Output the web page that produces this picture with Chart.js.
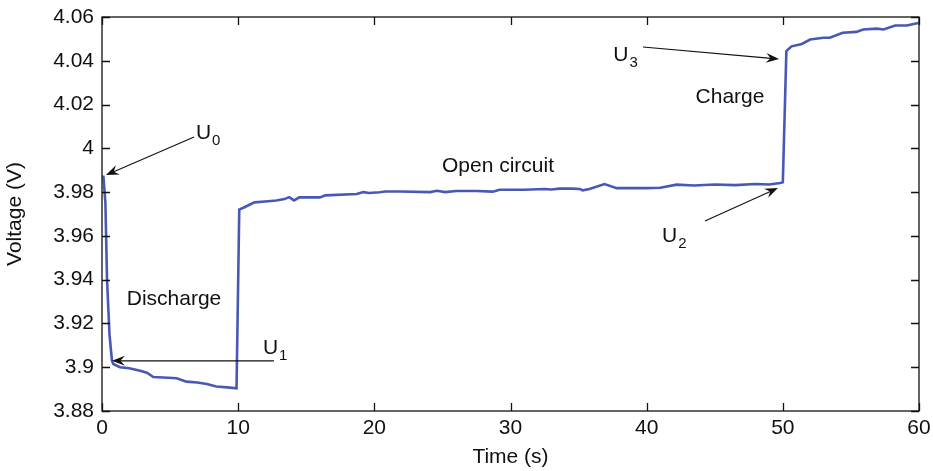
<!DOCTYPE html>
<html><head><meta charset="utf-8">
<script src="https://cdn.jsdelivr.net/npm/chart.js@4/dist/chart.umd.min.js"></script>
<style>html,body{margin:0;padding:0;background:#fff}#wrap{width:933px;height:471px}</style>
</head><body><div id="wrap"><canvas id="c" width="933" height="471"></canvas></div>
<script>
// ---- data ----
const timeS = [0.1,0.25,0.37,0.55,0.73,0.83,1.32,2.0,2.8,3.3,3.77,4.5,5.49,6.2,7.0,7.7,8.4,9.2,9.88,
  10.08,10.5,11.2,11.97,12.8,13.4,13.75,14.1,14.5,16.0,16.4,18.7,19.2,19.6,20.4,20.8,21.9,24.1,24.6,25.2,26.0,27.5,28.7,29.2,31.0,32.5,33.0,33.6,34.5,35.1,35.3,35.8,36.9,37.8,40.0,41.0,42.2,43.5,45.0,46.5,48.0,49.0,49.8,50.0,
  50.26,50.64,51.4,52.0,52.97,53.45,54.4,55.4,55.9,56.9,57.4,58.25,59.1,59.96];
const voltageV = [3.9876,3.975,3.940,3.915,3.903,3.9015,3.9000,3.8995,3.8984,3.8975,3.8955,3.8953,3.8950,3.8934,3.8930,3.8923,3.8912,3.8908,3.8904,
  3.9720,3.9732,3.9753,3.9757,3.9762,3.9768,3.9777,3.9762,3.9776,3.9776,3.9785,3.9791,3.9800,3.9796,3.9799,3.9803,3.9803,3.9800,3.9806,3.9800,3.9805,3.9805,3.9802,3.9811,3.9811,3.9814,3.9812,3.9816,3.9816,3.9814,3.9808,3.9814,3.9837,3.9818,3.9818,3.9820,3.9834,3.9830,3.9835,3.9832,3.9837,3.9835,3.9842,3.9845,
  4.0444,4.0466,4.0477,4.0497,4.0505,4.0505,4.0528,4.0532,4.0543,4.0547,4.0543,4.0561,4.0561,4.0573];
const xTickValues = [0,10,20,30,40,50,60];
const yTickValues = [3.88,3.90,3.92,3.94,3.96,3.98,4.00,4.02,4.04,4.06];
const xAxisTitle = 'Time (s)';
const yAxisTitle = 'Voltage (V)';
// phase labels: text, centre time, baseline voltage
const phaseText = ['Discharge','Open circuit','Charge'];
const phaseAt = [[5.29,3.9286],[29.08,3.9892],[46.12,4.0207]];
// U markers: subscript, text anchor (t,V), arrow start (t,V), arrow tip (t,V)
const markerSub = ['0','1','2','3'];
const markerTextAt = [[6.90,4.0043],[11.82,3.9060],[41.13,3.9572],[37.55,4.0399]];
const arrowFrom = [[6.76,4.0052],[12.63,3.9029],[44.28,3.9668],[39.73,4.0463]];
const arrowTo = [[0.29,3.9878],[0.73,3.9029],[49.64,3.9819],[49.72,4.0408]];

const FONT = '"Liberation Sans", Arial, Helvetica, sans-serif';
const FS = 21;
const points = timeS.map((t,i)=>({x:t,y:voltageV[i]}));

const framePlugin = {
  id:'frame',
  afterDatasetsDraw(chart){
    const {ctx, chartArea:a, scales:{x,y}} = chart;
    ctx.save();
    ctx.strokeStyle='#111'; ctx.lineWidth=1.3;
    ctx.strokeRect(a.left, a.top, a.right-a.left, a.bottom-a.top);
    const L=8;
    ctx.beginPath();
    xTickValues.forEach(v=>{const px=Math.round(x.getPixelForValue(v))+0.5;
      ctx.moveTo(px,a.bottom);ctx.lineTo(px,a.bottom-L);ctx.moveTo(px,a.top);ctx.lineTo(px,a.top+L);});
    yTickValues.forEach(v=>{const py=Math.round(y.getPixelForValue(v))+0.5;
      ctx.moveTo(a.left,py);ctx.lineTo(a.left+L,py);ctx.moveTo(a.right,py);ctx.lineTo(a.right-L,py);});
    ctx.stroke();
    // phase labels
    ctx.fillStyle='#111'; ctx.font=FS+'px '+FONT; ctx.textAlign='center'; ctx.textBaseline='alphabetic';
    phaseText.forEach((s,i)=>ctx.fillText(s, x.getPixelForValue(phaseAt[i][0]), y.getPixelForValue(phaseAt[i][1])));
    // markers
    ctx.textAlign='left';
    markerSub.forEach((s,i)=>{
      const tx=x.getPixelForValue(markerTextAt[i][0]), ty=y.getPixelForValue(markerTextAt[i][1]);
      ctx.font=FS+'px '+FONT; ctx.fillText('U',tx,ty);
      const w=ctx.measureText('U').width;
      ctx.font='15px '+FONT; ctx.fillText(s,tx+w+1,ty+6);
      const x1=x.getPixelForValue(arrowFrom[i][0]), y1=y.getPixelForValue(arrowFrom[i][1]);
      const x2=x.getPixelForValue(arrowTo[i][0]), y2=y.getPixelForValue(arrowTo[i][1]);
      const ang=Math.atan2(y2-y1,x2-x1), len=13, wd=5;
      const c=Math.cos(ang), sn=Math.sin(ang);
      ctx.lineWidth=1.1; ctx.beginPath(); ctx.moveTo(x1,y1); ctx.lineTo(x2-c*len*0.6,y2-sn*len*0.6); ctx.stroke();
      ctx.beginPath();
      ctx.moveTo(x2,y2);
      ctx.lineTo(x2-c*len - sn*wd, y2-sn*len + c*wd);
      ctx.lineTo(x2-c*len*0.65, y2-sn*len*0.65);
      ctx.lineTo(x2-c*len + sn*wd, y2-sn*len - c*wd);
      ctx.closePath(); ctx.fill();
    });
    ctx.restore();
  }
};

new Chart(document.getElementById('c'), {
  type:'line',
  data:{datasets:[{data:points, borderColor:'#4858b5', borderWidth:2.6, pointRadius:0, tension:0, fill:false}]},
  options:{
    responsive:false, animation:false, devicePixelRatio:1,
    layout:{padding:{top:17,right:14,left:0,bottom:0}},
    plugins:{legend:{display:false}, tooltip:{enabled:false}},
    scales:{
      x:{type:'linear', min:0, max:60,
        afterBuildTicks:s=>{s.ticks=xTickValues.map(v=>({value:v}));},
        afterFit:s=>{s.height=60; s.paddingLeft=0; s.paddingRight=0;},
        grid:{display:false, drawTicks:false}, border:{display:false},
        ticks:{font:{size:FS,family:FONT}, color:'#111', padding:5, maxRotation:0, autoSkip:false},
        title:{display:true, text:xAxisTitle, color:'#111', font:{size:FS,family:FONT}, padding:{top:0,bottom:1}}},
      y:{type:'linear', min:3.88, max:4.06,
        afterBuildTicks:s=>{s.ticks=yTickValues.map(v=>({value:v}));},
        afterFit:s=>{s.width=102; s.paddingTop=0; s.paddingBottom=0;},
        grid:{display:false, drawTicks:false}, border:{display:false},
        ticks:{font:{size:FS,family:FONT}, color:'#111', padding:8, autoSkip:false,
          callback:v=>String(+Number(v).toFixed(2))},
        title:{display:true, text:yAxisTitle, color:'#111', font:{size:FS,family:FONT}, padding:{top:3,bottom:0}}}
    }
  },
  plugins:[framePlugin]
});
</script></body></html>
